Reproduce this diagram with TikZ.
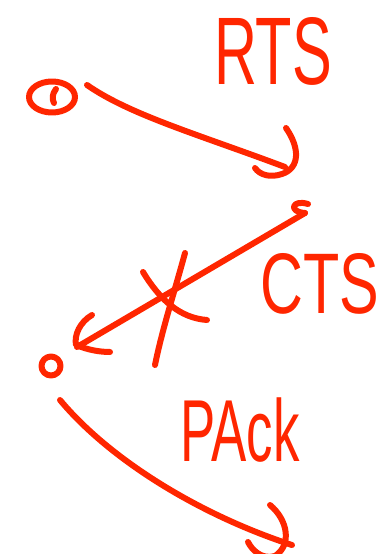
\documentclass[tikz,border=0pt]{standalone}
\usepackage{fontspec}
\setmainfont{Liberation Sans}
\usepackage{graphicx}
\usetikzlibrary{shapes.geometric}
\definecolor{ink}{RGB}{255,38,0}
\begin{document}
\begin{tikzpicture}[x=1pt,y=-1pt,
  pen/.style={draw=ink, line width=6pt, line cap=round, line join=round},
  lbl/.style={text=ink, inner sep=0pt}]
\useasboundingbox (0,0) rectangle (383,554);
% stations
\node[pen, ellipse, minimum width=46, minimum height=31] (snd) at (52,97) {};
\draw[pen] (56,89) .. controls (52,94) and (52,99) .. (54,103);
\node[pen, circle, minimum size=19] (rcv) at (51,366) {};
\coordinate (ctsStart) at (305,213);
\draw[pen] (308,204) .. controls (292,199) and (288,212) .. (ctsStart);
% RTS arrow
\coordinate (r1) at (87,85);
\coordinate (r2) at (285,167);
\draw[pen] (r1) .. controls (130,115) and (200,135) .. (r2);
\draw[pen] (286,128) .. controls (300,148) and (300,168) .. (282,174) .. controls (270,178) and (260,175) .. (255,168);
% CTS arrow
\coordinate (c2) at (77,347);
\draw[pen] (ctsStart) -- (c2);
\draw[pen] (92,315) .. controls (80,322) and (74,335) .. (76,345) .. controls (88,350) and (100,352) .. (110,352);
% cross
\draw[pen] (143,272) .. controls (160,300) and (180,318) .. (207,320);
\draw[pen] (185,253) .. controls (175,290) and (162,330) .. (155,365);
% PAck arrow
\coordinate (p1) at (60,400);
\coordinate (p2) at (292,545);
\draw[pen] (p1) .. controls (110,460) and (200,515) .. (p2);
\draw[pen] (270,505) .. controls (288,520) and (292,545) .. (275,556) .. controls (262,560) and (252,550) .. (248,542);
% labels
\node[lbl, font=\fontsize{96}{96}\selectfont] (rts) at (273,51) {\scalebox{0.62}[1]{RTS}};
\node[lbl, font=\fontsize{86}{86}\selectfont] (cts) at (320,284) {\scalebox{0.69}[1]{CTS}};
\node[lbl, font=\fontsize{88}{88}\selectfont] (pack) at (240,430) {\scalebox{0.6}[1]{PAck}};
\end{tikzpicture}
\end{document}
